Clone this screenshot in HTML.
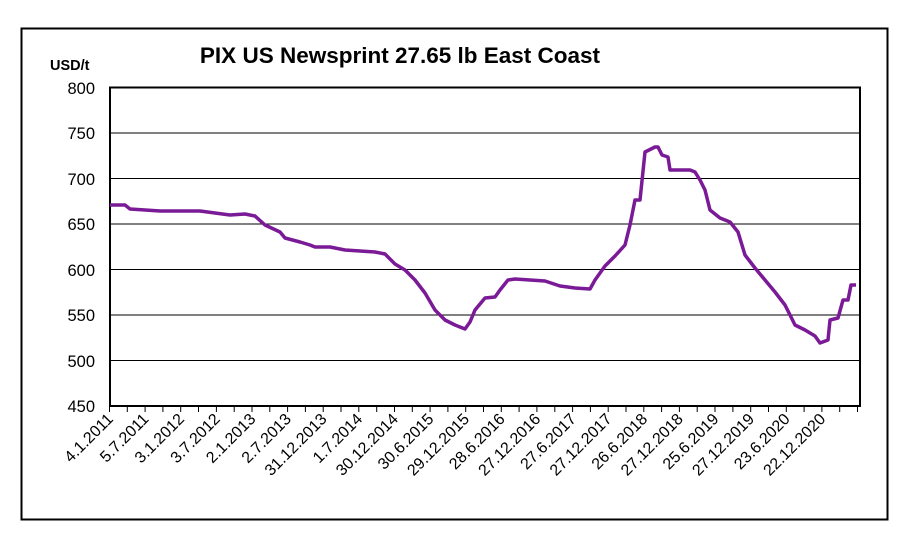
<!DOCTYPE html>
<html><head><meta charset="utf-8"><style>
body{margin:0;background:#fff;}
svg{display:block;font-family:"Liberation Sans",Arial,sans-serif;}
</style></head><body>
<svg width="904" height="540" viewBox="0 0 904 540">
<rect x="21.5" y="28.5" width="866" height="491" fill="#fff" stroke="#000" stroke-width="2"/>
<text x="400" y="63" text-anchor="middle" font-size="22.5" font-weight="bold">PIX US Newsprint 27.65 lb East Coast</text>
<text x="50" y="70" font-size="14.5" font-weight="bold">USD/t</text>
<g stroke="#000" stroke-width="1">
<line x1="110" y1="133" x2="860" y2="133"/>
<line x1="110" y1="178.5" x2="860" y2="178.5"/>
<line x1="110" y1="224" x2="860" y2="224"/>
<line x1="110" y1="269.5" x2="860" y2="269.5"/>
<line x1="110" y1="315" x2="860" y2="315"/>
<line x1="110" y1="360.5" x2="860" y2="360.5"/>
</g>
<rect x="110" y="87.5" width="750" height="318.5" fill="none" stroke="#000" stroke-width="2"/>
<g font-size="16.5" text-anchor="end" fill="#000">
<text x="95" y="94">800</text><text x="95" y="139">750</text><text x="95" y="185">700</text>
<text x="95" y="230">650</text><text x="95" y="276">600</text><text x="95" y="321">550</text>
<text x="95" y="367">500</text><text x="95" y="412">450</text>
</g>
<path stroke="#000" stroke-width="1" fill="none" d="M109.5 406v6M127.3 406v6M145.1 406v6M162.9 406v6M180.7 406v6M198.5 406v6M216.4 406v6M234.2 406v6M252 406v6M269.8 406v6M287.6 406v6M305.4 406v6M323.2 406v6M341 406v6M358.8 406v6M376.7 406v6M394.5 406v6M412.3 406v6M430.1 406v6M447.9 406v6M465.7 406v6M483.5 406v6M501.3 406v6M519.1 406v6M536.9 406v6M554.8 406v6M572.6 406v6M590.4 406v6M608.2 406v6M626 406v6M643.8 406v6M661.6 406v6M679.4 406v6M697.2 406v6M715 406v6M732.9 406v6M750.7 406v6M768.5 406v6M786.3 406v6M804.1 406v6M821.9 406v6M839.7 406v6M857.5 406v6"/>
<g font-size="16" text-anchor="end">
<text transform="translate(114,420) rotate(-45)">4.1.2011</text>
<text transform="translate(149.6,420) rotate(-45)">5.7.2011</text>
<text transform="translate(185.2,420) rotate(-45)">3.1.2012</text>
<text transform="translate(220.9,420) rotate(-45)">3.7.2012</text>
<text transform="translate(256.5,420) rotate(-45)">2.1.2013</text>
<text transform="translate(292.1,420) rotate(-45)">2.7.2013</text>
<text transform="translate(327.7,420) rotate(-45)">31.12.2013</text>
<text transform="translate(363.3,420) rotate(-45)">1.7.2014</text>
<text transform="translate(399,420) rotate(-45)">30.12.2014</text>
<text transform="translate(434.6,420) rotate(-45)">30.6.2015</text>
<text transform="translate(470.2,420) rotate(-45)">29.12.2015</text>
<text transform="translate(505.8,420) rotate(-45)">28.6.2016</text>
<text transform="translate(541.4,420) rotate(-45)">27.12.2016</text>
<text transform="translate(577.1,420) rotate(-45)">27.6.2017</text>
<text transform="translate(612.7,420) rotate(-45)">27.12.2017</text>
<text transform="translate(648.3,420) rotate(-45)">26.6.2018</text>
<text transform="translate(683.9,420) rotate(-45)">27.12.2018</text>
<text transform="translate(719.5,420) rotate(-45)">25.6.2019</text>
<text transform="translate(755.2,420) rotate(-45)">27.12.2019</text>
<text transform="translate(790.8,420) rotate(-45)">23.6.2020</text>
<text transform="translate(826.4,420) rotate(-45)">22.12.2020</text>
</g>
<polyline fill="none" stroke="#7a1a96" stroke-width="3.5" stroke-linejoin="round" points="110,205 125,205 130,209 160,211 200,211 230,215 245,214 255,216 265,225 280,232 285,238 300,242 310,245 315,247 330,247 345,250 360,251 375,252 385,254 395,264 405,270 415,280 425,293 435,310 445,320 455,325 465,329 470,322 475,310 485,298 495,297 500,290 508,280 515,279 530,280 545,281 560,286 575,288 590,289 595,280 605,266 615,256 625,245 630,225 635,200 640,200 645,152 655,147 658,147 662,155 668,157 670,170 690,170 695,172 700,180 705,190 710,210 720,218 730,222 738,232 745,255 755,268 765,280 775,292 785,305 795,325 805,330 815,336 820,343 828,340 830,320 838,318 843,300 848,300 851,285 856,285"/>
</svg>
</body></html>
